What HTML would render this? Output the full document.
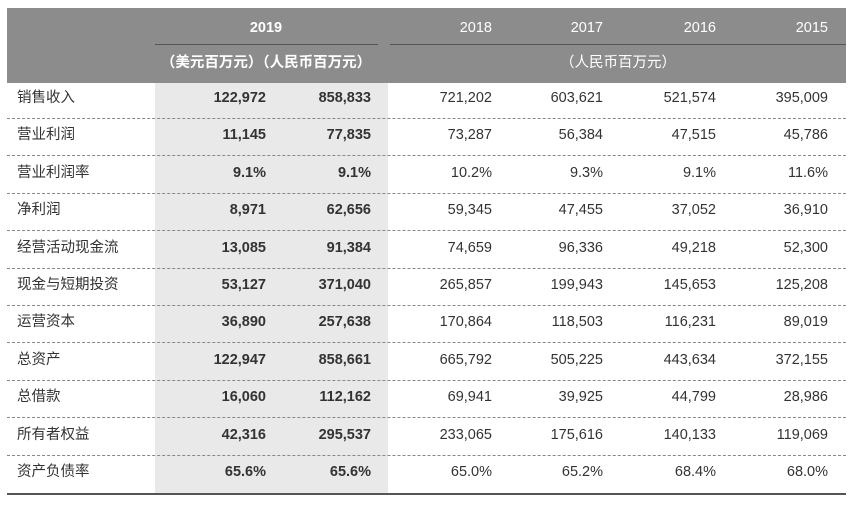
<!DOCTYPE html>
<html><head><meta charset="utf-8"><style>
body{margin:0;width:854px;height:505px;background:#fff;position:relative;overflow:hidden;font-family:"Liberation Sans","Noto Sans CJK SC",sans-serif;color:#333}
.a{position:absolute}
.hdr{left:7px;top:8px;width:839px;height:75px;background:#8c8c8c}
.col{left:155px;top:83px;width:233px;height:411px;background:#e9e9e9}
.t{position:absolute;font-size:14.5px;line-height:18px;white-space:nowrap}
.r{text-align:right}
.w{color:#fff}
.dash{position:absolute;left:7px;width:839px;border-top:1px dashed #888;height:0}
</style></head><body>
<div class="a hdr"></div>
<div class="a col"></div>
<div class="t w" style="left:155px;width:222px;top:19px;text-align:center;font-weight:bold">2019</div>
<div class="a" style="left:155px;top:44px;width:223px;border-top:1px solid #555"></div>
<div class="a" style="left:390px;top:44px;width:456px;border-top:1px solid #555"></div>
<div class="t w" style="left:155px;width:222px;top:54px;text-align:center;font-weight:bold">（美元百万元）（人民币百万元）</div>
<div class="t w" style="left:390px;width:456px;top:54px;text-align:center">（人民币百万元）</div>
<div id="body"></div>
<div class="a" style="left:7px;top:493px;width:839px;border-top:2px solid #555"></div>
<script>
const years=["2018","2017","2016","2015"];
const yearRight=[492,603,716,828];
const labels=["销售收入","营业利润","营业利润率","净利润","经营活动现金流","现金与短期投资","运营资本","总资产","总借款","所有者权益","资产负债率"];
const usd2019=["122,972","11,145","9.1%","8,971","13,085","53,127","36,890","122,947","16,060","42,316","65.6%"];
const rmb2019=["858,833","77,835","9.1%","62,656","91,384","371,040","257,638","858,661","112,162","295,537","65.6%"];
const hist=[
["721,202","603,621","521,574","395,009"],
["73,287","56,384","47,515","45,786"],
["10.2%","9.3%","9.1%","11.6%"],
["59,345","47,455","37,052","36,910"],
["74,659","96,336","49,218","52,300"],
["265,857","199,943","145,653","125,208"],
["170,864","118,503","116,231","89,019"],
["665,792","505,225","443,634","372,155"],
["69,941","39,925","44,799","28,986"],
["233,065","175,616","140,133","119,069"],
["65.0%","65.2%","68.4%","68.0%"]];
const b=document.getElementById('body');
function cell(txt,left,right,top,bold,name){
 const d=document.createElement('div');d.className='t'+(right?' r':'');
 d.textContent=txt;d.style.top=top+'px';
 if(right){d.style.left=(right-120)+'px';d.style.width='120px';}else d.style.left=left+'px';
 if(bold)d.style.fontWeight='bold';
 
 
 b.appendChild(d);
}
years.forEach((y,i)=>{
 const d=document.createElement('div');d.className='t w r';d.textContent=y;
 d.style.top='19px';d.style.left=(yearRight[i]-80)+'px';d.style.width='80px';
 
 
 b.appendChild(d);
});
labels.forEach((l,i)=>{
 const top=89+i*37.4;
 cell(l,17,0,top,false,'row-label');
 cell(usd2019[i],0,266,top,true,'usd-2019-value');
 cell(rmb2019[i],0,371,top,true,'rmb-2019-value');
 hist[i].forEach((v,j)=>cell(v,0,yearRight[j],top,false,'value-'+years[j]));
 if(i<labels.length-1){
  const ln=document.createElement('div');ln.className='dash';ln.style.top=(118+i*37.4)+'px';
  
  
  b.appendChild(ln);
 }
});
</script>
</body></html>
